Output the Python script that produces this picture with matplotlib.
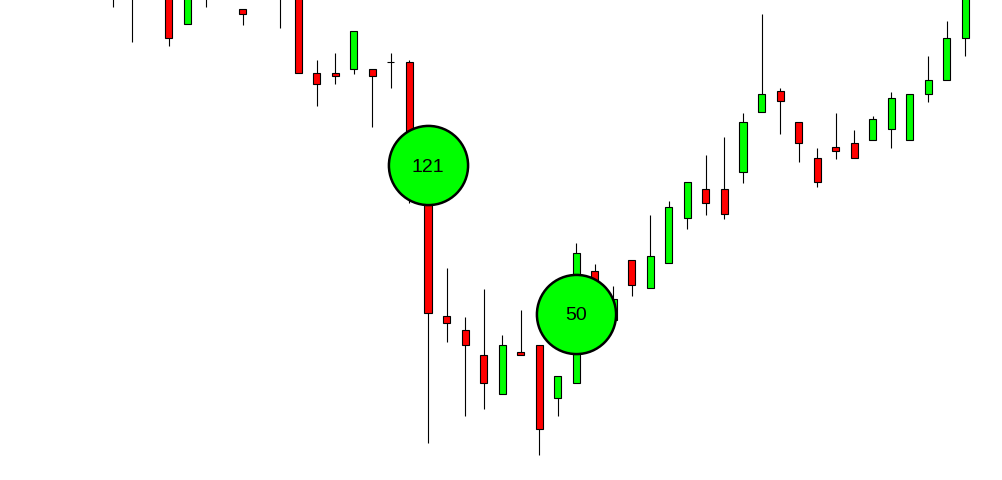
import numpy as np
import matplotlib.pyplot as plt

# candle prices (bars that run past the top edge are guessed)
opens  = [495, 490, 510, 485, 456, 495, 505, 471, 490, 500,
          490, 407, 407, 411, 411, 418, 418, 285, 164, 150,
          125,  86, 128, 135,  82,  97, 209, 160, 220, 192,
          217, 262, 291, 291, 308, 368, 389, 358, 322, 333,
          337, 340, 351, 340, 386, 400, 442]
highs  = [505, 500, 520, 490, 495, 505, 515, 471, 510, 510,
          495, 420, 427, 449, 411, 427, 420, 290, 212, 163,
          191, 145, 170, 135, 104, 237, 216, 194, 220, 265,
          279, 298, 325, 343, 367, 466, 392, 358, 332, 367,
          350, 364, 388, 386, 424, 459, 495]
lows   = [473, 438, 490, 434, 456, 473, 485, 455, 483, 452,
          407, 374, 396, 406, 353, 392, 277,  37, 138,  64,
           71,  86, 125,  25,  64,  97, 180, 154, 184, 192,
          217, 251, 265, 261, 297, 368, 346, 318, 293, 321,
          322, 340, 332, 340, 378, 400, 424]
closes = [485, 483, 500, 442, 490, 485, 495, 466, 500, 488,
          407, 396, 404, 449, 404, 418, 290, 167, 157, 135,
           97, 135, 125,  51, 104, 227, 188, 181, 195, 224,
          273, 298, 277, 266, 358, 386, 379, 337, 298, 329,
          322, 361, 382, 386, 400, 442, 490]

# round labels sitting on two of the candles
mark_idx = [17, 25]
mark_price = [315, 166]
mark_text = ['121', '50']

up_col = '#00ff00'
down_col = '#ff0000'

n = len(opens)
x = np.arange(n)
o = np.array(opens)
c = np.array(closes)
cols = [up_col if cc > oo else down_col for oo, cc in zip(o, c)]

fig = plt.figure(figsize=(10.02, 4.8), dpi=100)
ax = fig.add_axes([0, 0, 1, 1])

# wicks
ax.vlines(x, lows, highs, color='k', linewidth=0.8, zorder=1)
# bodies
ax.bar(x, np.abs(c - o), bottom=np.minimum(o, c), width=0.38,
       color=cols, edgecolor='k', linewidth=0.8, zorder=2)

# circles with numbers
ax.plot(mark_idx, mark_price, 'o', ms=57, mfc=up_col, mec='k', mew=1.8, zorder=5)
for xi, yi, t in zip(mark_idx, mark_price, mark_text):
    ax.text(xi, yi, t, ha='center', va='center_baseline', fontsize=14,
            family='Liberation Sans', zorder=6)

step = 18.53
ax.set_xlim(-113 / step, (1002 - 113) / step)
ax.set_ylim(0, 480)
ax.axis('off')

fig.savefig('out.png', dpi=100, facecolor='white')
